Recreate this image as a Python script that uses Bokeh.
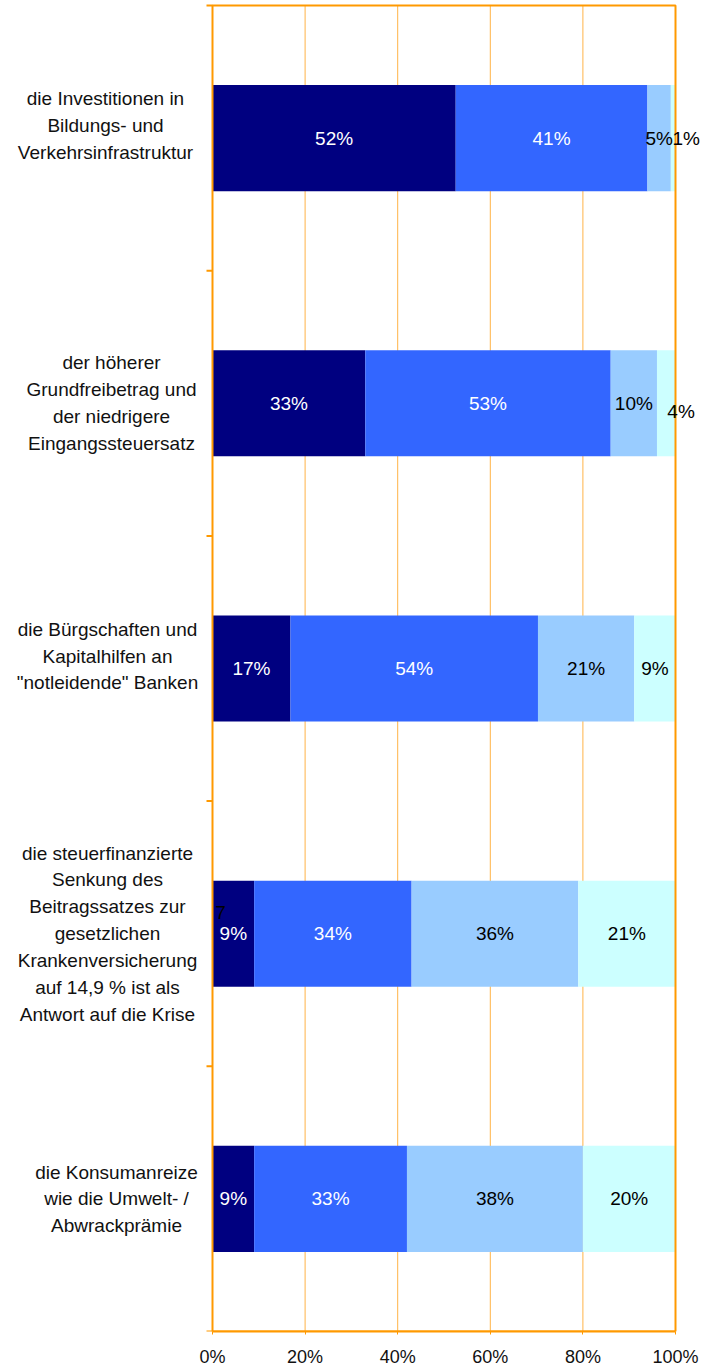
from bokeh.plotting import figure
from bokeh.models import ColumnDataSource, Range1d, FixedTicker
from bokeh.core.properties import value
from bokeh.embed import file_html
from bokeh.resources import INLINE

# ---------------- data ----------------
categories = [
    "die Investitionen in\nBildungs- und\nVerkehrsinfrastruktur",
    "der höherer\nGrundfreibetrag und\nder niedrigere\nEingangssteuersatz",
    "die Bürgschaften und\nKapitalhilfen an\n\"notleidende\" Banken",
    "die steuerfinanzierte\nSenkung des\nBeitragssatzes zur\ngesetzlichen\nKrankenversicherung\nauf 14,9 % ist als\nAntwort auf die Krise",
    "die Konsumanreize\nwie die Umwelt- /\nAbwrackprämie",
]
series_1 = [52, 33, 17, 9, 9]
series_2 = [41, 53, 54, 34, 33]
series_3 = [5, 10, 21, 36, 38]
series_4 = [1, 4, 9, 21, 20]
x_ticks = [0, 20, 40, 60, 80, 100]
x_tick_labels = ["0%", "20%", "40%", "60%", "80%", "100%"]
extra_label = "7"  # stray label in the 4th bar

# ---------------- style / layout ----------------
colors = ["#000080", "#3366FF", "#99CCFF", "#CCFFFF"]
text_colors = ["white", "white", "black", "black"]
ORANGE = "#FF9900"
GRID = "#FFB347"
FONT = "Liberation Sans"
W, H = 713, 1369
PLOT_LEFT_PX, PLOT_RIGHT_PX = 212, 675
PLOT_TOP_PX, PLOT_BOTTOM_PX = 5, 1331
px_per_x = (PLOT_RIGHT_PX - PLOT_LEFT_PX) / 100.0
px_per_y = (PLOT_BOTTOM_PX - PLOT_TOP_PX) / 5.0
x_lo = -PLOT_LEFT_PX / px_per_x
x_hi = (W - PLOT_LEFT_PX) / px_per_x
y_top = -PLOT_TOP_PX / px_per_y

cat_label_x_px = [105, 111, 107, 107, 116]
cat_label_dy = [-0.047, 0, -0.047, 0, 0]
# (series index, category index) -> (dx in %, dy in category units)
label_nudges = {(3, 0): (2.8, 0.0), (3, 1): (3.2, 0.03)}

p = figure(width=W, height=H, output_backend="svg", toolbar_location=None,
           x_range=Range1d(x_lo, x_hi), y_range=Range1d(5, y_top),
           y_axis_type=None,
           min_border_left=0, min_border_right=0, min_border_top=0,
           min_border_bottom=H - PLOT_BOTTOM_PX)
p.background_fill_color = "white"
p.border_fill_color = "white"
p.outline_line_color = None
p.xgrid.visible = False
p.ygrid.visible = False

n = len(categories)
ys = [i + 0.5 for i in range(n)]

# vertical grid lines inside the plot area
p.segment(x0=x_ticks, y0=[0] * len(x_ticks), x1=x_ticks, y1=[5] * len(x_ticks),
          line_color=GRID, line_width=1)

series = [series_1, series_2, series_3, series_4]
totals = [sum(s[i] for s in series) for i in range(n)]

lx, ly, lt, lc = [], [], [], []
left = [0.0] * n
for k, s in enumerate(series):
    share = [s[i] / totals[i] * 100 for i in range(n)]
    right = [left[i] + share[i] for i in range(n)]
    src = ColumnDataSource(dict(y=ys, left=left, right=right))
    p.hbar(y="y", left="left", right="right", height=0.4, source=src,
           fill_color=colors[k], line_color=None)
    for i in range(n):
        dx, dy = label_nudges.get((k, i), (0, 0))
        lx.append((left[i] + right[i]) / 2 + dx)
        ly.append(ys[i] + dy)
        lt.append(f"{s[i]}%")
        lc.append(text_colors[k])
    left = right

# plot-area border
p.quad(left=[0], right=[100], top=[0], bottom=[5], fill_color=None,
       line_color=ORANGE, line_width=2)

# category boundary ticks on the left axis
bounds = list(range(n + 1))
p.segment(x0=[-6 / px_per_x] * len(bounds), y0=bounds, x1=[0] * len(bounds), y1=bounds,
          line_color=ORANGE, line_width=2)

lsrc = ColumnDataSource(dict(x=lx, y=ly, text=lt, color=lc))
p.text(x="x", y="y", text="text", source=lsrc, text_color="color",
       text_font=value(FONT), text_font_size="19px", text_align="center",
       text_baseline="middle")

p.text(x=[8 / px_per_x], y=[3.42], text=[extra_label], text_font=value(FONT),
       text_font_size="19px", text_color="black", text_align="center",
       text_baseline="middle")

csrc = ColumnDataSource(dict(
    x=[(c - PLOT_LEFT_PX) / px_per_x for c in cat_label_x_px],
    y=[ys[i] + cat_label_dy[i] for i in range(n)],
    text=categories))
p.text(x="x", y="y", text="text", source=csrc, text_font=value(FONT),
       text_font_size="19px", text_color="#111111", text_align="center",
       text_baseline="middle", text_line_height=1.28)

# x axis
xa = p.xaxis[0]
xa.ticker = FixedTicker(ticks=x_ticks)
xa.bounds = (0, 100)
xa.major_label_overrides = {t: l for t, l in zip(x_ticks, x_tick_labels)}
xa.axis_line_color = ORANGE
xa.axis_line_width = 2
xa.major_tick_line_color = ORANGE
xa.major_tick_out = 3
xa.major_tick_in = 0
xa.minor_tick_line_color = None
xa.major_label_standoff = 12
xa.major_label_text_font = FONT
xa.major_label_text_font_size = "18px"
xa.major_label_text_color = "#111111"

open("out.html", "w").write(file_html(p, INLINE))
